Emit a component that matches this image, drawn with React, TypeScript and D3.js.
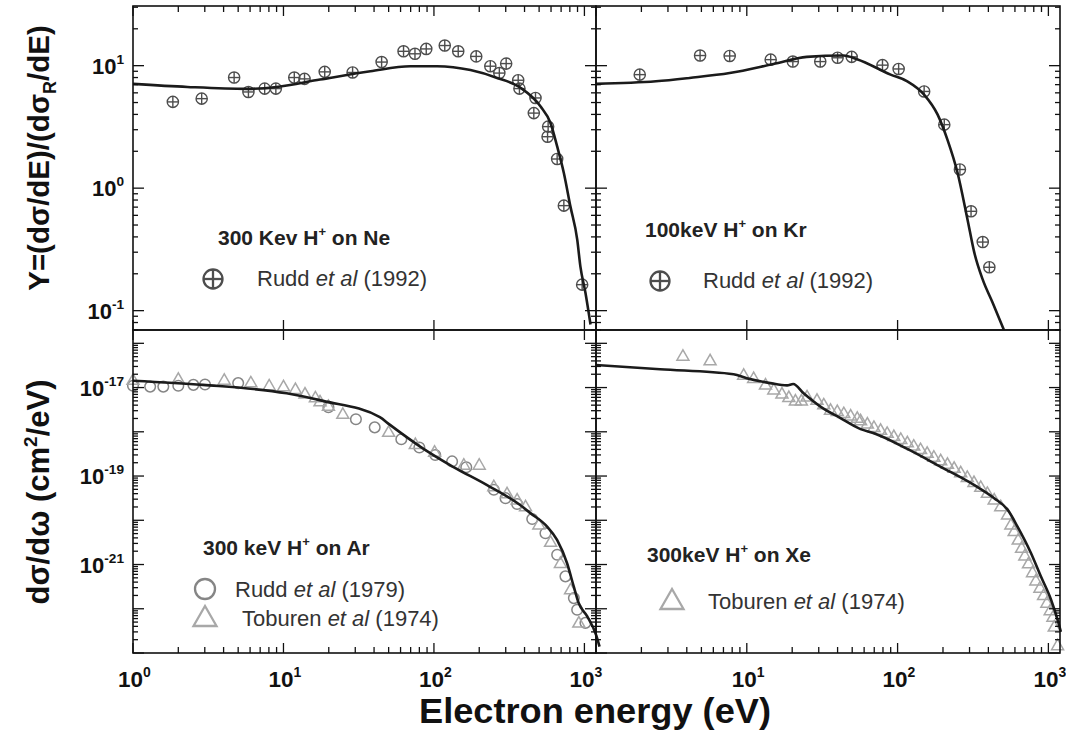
import React from "react";
import * as d3 from "d3";

// ---------- data ----------
// Top-left: 300 keV H+ on Ne, ratio Y
const neCurve: [number, number][] = [
  [1, 7.1], [2.3, 6.7], [5.7, 6.46], [9, 6.7], [17.5, 7.7], [37.8, 9.0], [69.7, 9.9],
  [105, 9.9], [175, 9.2], [263, 7.94], [376, 6.6], [510, 4.66], [595, 3.4], [659, 2.19],
  [730, 1.33], [807, 0.71], [896, 0.38], [940, 0.23], [1016, 0.14], [1098, 0.077],
];
const neRudd1992: [number, number][] = [
  [1.84, 5.06], [2.86, 5.38], [4.7, 8.0], [5.85, 6.1], [7.5, 6.5], [8.9, 6.5], [11.8, 8.0],
  [13.8, 7.8], [18.8, 8.9], [28.8, 8.8], [44.9, 10.7], [62.8, 13.1], [74.8, 12.5], [88.9, 13.7],
  [118, 14.6], [145, 13.1], [191, 11.9], [237, 9.9], [272, 8.7], [302, 10.4], [363, 7.6],
  [370, 6.5], [473, 5.45], [461, 4.1], [574, 3.18], [569, 2.63], [659, 1.73], [730, 0.72],
  [966, 0.163],
];
// Top-right: 100 keV H+ on Kr
const krCurve: [number, number][] = [
  [1, 7.1], [2.5, 7.45], [4.17, 7.94], [7.7, 8.7], [15, 10.3], [25, 11.8], [43.9, 12.1],
  [53.8, 11.3], [89.8, 8.45], [116, 7.45], [150, 5.8], [184, 4.0], [214, 2.49], [250, 1.33],
  [291, 0.553], [323, 0.296], [367, 0.179], [427, 0.116], [511, 0.068],
];
const krRudd1992: [number, number][] = [
  [1.95, 8.45], [4.9, 12.1], [7.7, 12.0], [14.4, 11.2], [20.2, 10.8], [30.7, 10.8], [40, 11.6],
  [49.6, 11.8], [79.4, 10.1], [101.6, 9.4], [150, 6.16], [204, 3.3], [259, 1.42], [307, 0.647],
  [367, 0.363], [406, 0.226],
];
// Bottom-left: 300 keV H+ on Ar, cm^2/eV
const arCurve: [number, number][] = [
  [1, 1.43e-17], [2.92, 1.15e-17], [10.5, 7.4e-18], [18.3, 5.0e-18], [43.7, 2.14e-18],
  [50.8, 1.45e-18], [80.5, 4.7e-19], [134, 1.62e-19], [224, 6.3e-20], [372, 2.24e-20],
  [438, 1.45e-20], [565, 7.2e-21], [658, 3.6e-21], [767, 1.07e-21], [849, 3.2e-22],
  [916, 1.35e-22], [1042, 6.8e-23], [1202, 2.45e-23], [1260, 1.4e-23],
];
const arRudd1979: [number, number][] = [
  [1.0, 1.1e-17], [1.3, 1.05e-17], [1.59, 1.05e-17], [2.0, 1.1e-17], [2.52, 1.15e-17],
  [3.01, 1.17e-17], [5.0, 1.26e-17], [19.9, 3.59e-18], [30.3, 1.92e-18], [40.4, 1.26e-18],
  [60.7, 6.8e-19], [80, 4.4e-19], [102, 3.0e-19], [132, 2.14e-19], [164, 1.58e-19],
  [250, 4.9e-20], [299, 3.16e-20], [357, 2.34e-20], [450, 1.07e-20], [551, 5.1e-21],
  [659, 1.66e-21], [748, 5.4e-22], [851, 1.74e-22], [895, 9.5e-23], [1016, 4.8e-23],
];
const arToburen1974: [number, number][] = [
  [1.0, 1.48e-17], [2.0, 1.55e-17], [4.04, 1.48e-17], [6.07, 1.29e-17], [8.04, 1.1e-17],
  [10, 1.05e-17], [12.0, 9.1e-18], [13.9, 7.2e-18], [16.3, 5.9e-18], [17.5, 4.8e-18],
  [19.9, 3.8e-18], [24.8, 2.5e-18], [50, 9.8e-19], [75.2, 5.2e-19], [101, 3.5e-19],
  [158, 1.78e-19], [200, 1.78e-19], [250, 5.8e-20], [306, 4.0e-20], [357, 2.9e-20],
  [406, 2.04e-20], [498, 7.9e-21], [596, 3.2e-21], [693, 1.07e-21], [809, 2.7e-22],
  [918, 4.8e-23],
];
// Bottom-right: 300 keV H+ on Xe
const xeCurve: [number, number][] = [
  [1, 3.24e-17], [2.66, 2.59e-17], [8.17, 2.0e-17], [10.0, 1.62e-17], [14.3, 1.26e-17],
  [18.5, 1.12e-17], [20.3, 1.2e-17], [23.8, 7.4e-18], [30.8, 3.7e-18], [41.8, 2.04e-18],
  [56.8, 1.15e-18], [69.7, 9.3e-19], [116, 4.1e-19], [193, 1.62e-19], [321, 6.3e-20],
  [437, 3.16e-20], [536, 1.74e-20], [624, 7.2e-21], [766, 1.82e-21], [891, 5.4e-22],
  [1040, 1.62e-22], [1151, 5.6e-23], [1211, 3.0e-23],
];
const xeToburen1974: [number, number][] = [
  [3.77, 5.16e-17], [5.71, 4.07e-17], [9.53, 1.92e-17], [11.1, 1.62e-17], [13.3, 1.15e-17],
  [15.1, 8.9e-18], [17.1, 7.2e-18], [19.0, 6.0e-18], [21.0, 5.0e-18], [23.0, 5.0e-18],
  [25.1, 6.2e-18], [29.2, 5.2e-18], [32.4, 4.1e-18], [35.9, 3.1e-18], [39.8, 2.9e-18],
  [44.0, 2.6e-18], [48.8, 2.3e-18], [54.0, 2.04e-18], [56.8, 1.79e-18], [63.0, 1.51e-18],
  [69.7, 1.27e-18], [77.1, 1.09e-18], [85.3, 9.3e-19], [94.4, 7.9e-19], [105, 6.8e-19],
  [116, 5.7e-19], [128, 4.8e-19], [142, 4.0e-19], [157, 3.3e-19], [174, 2.7e-19],
  [193, 2.24e-19], [214, 1.86e-19], [237, 1.51e-19], [262, 1.2e-19], [290, 9.4e-20],
  [321, 7.2e-20], [356, 5.6e-20], [394, 4.1e-20], [437, 2.9e-20], [483, 2.04e-20],
  [536, 1.33e-20], [564, 7.9e-21], [593, 5.6e-21], [631, 3.6e-21], [664, 2.34e-21],
  [698, 1.58e-21], [738, 1.05e-21], [785, 6.6e-22], [826, 4.3e-22], [879, 2.95e-22],
  [929, 2.0e-22], [977, 1.35e-22], [1028, 9.1e-23], [1072, 6.5e-23], [1094, 3.9e-23],
  [1151, 1.48e-23],
];

const xDomain: [number, number] = [1, 1194];
const yTopDomain: [number, number] = [0.0695, 30.7];
const yBotDomain: [number, number] = [1e-23, 2.0e-16];
const xLabelExpLeft = [0, 1, 2, 3];
const xLabelExpRight = [1, 2, 3];
const yTopLabelExp = [1, 0, -1];
const yBotLabelExp = [-17, -19, -21];

// ---------- layout ----------
const W = 1066;
const H = 736;
const LX: [number, number] = [133, 596];
const RX: [number, number] = [596, 1060];
const TY: [number, number] = [330, 6];
const BY: [number, number] = [653, 330];

const xLeft = d3.scaleLog().domain(xDomain).range(LX);
const xRight = d3.scaleLog().domain(xDomain).range(RX);
const yTop = d3.scaleLog().domain(yTopDomain).range(TY);
const yBot = d3.scaleLog().domain(yBotDomain).range(BY);

const FONT = "'Liberation Sans', Arial, Helvetica, sans-serif";
const CURVE = "#1b1b1b";
const C_PLUS = "#4d4d4d";
const C_CIRC = "#858585";
const C_TRI = "#a8a8a8";

function logTicks(domain: [number, number]) {
  const out: { v: number; major: boolean }[] = [];
  const lo = Math.floor(Math.log10(domain[0]));
  const hi = Math.ceil(Math.log10(domain[1]));
  for (let e = lo; e <= hi; e++) {
    for (let k = 1; k <= 9; k++) {
      const v = k * Math.pow(10, e);
      if (v >= domain[0] * 0.9999 && v <= domain[1] * 1.0001) out.push({ v, major: k === 1 });
    }
  }
  return out;
}

type Sc = d3.ScaleLogarithmic<number, number>;

function Frame({ x, y, top, bottom }: { x: Sc; y: Sc; top: "all" | "major"; bottom: "all" | "major" }) {
  const [x0, x1] = x.range();
  const [y1, y0] = y.range();
  const xt = logTicks(x.domain() as [number, number]);
  const yt = logTicks(y.domain() as [number, number]);
  const lines: JSX.Element[] = [];
  xt.forEach((t, i) => {
    const px = x(t.v);
    if (top === "all" || t.major) {
      const len = t.major ? 10 : 6;
      lines.push(<line key={"xt" + i} x1={px} x2={px} y1={y0} y2={y0 + len} />);
    }
    if (bottom === "all" || t.major) {
      const len = t.major ? 10 : 6;
      lines.push(<line key={"xb" + i} x1={px} x2={px} y1={y1} y2={y1 - len} />);
    }
  });
  yt.forEach((t, i) => {
    const py = y(t.v);
    const len = t.major ? 11 : 5;
    lines.push(<line key={"yl" + i} x1={x0} x2={x0 + len} y1={py} y2={py} />);
    lines.push(<line key={"yr" + i} x1={x1} x2={x1 - len} y1={py} y2={py} />);
  });
  return (
    <g stroke="#111" strokeWidth={1.3} fill="none">
      {lines}
      <rect x={x0} y={y0} width={x1 - x0} height={y1 - y0} strokeWidth={1.6} />
    </g>
  );
}

function CirclePlus({ cx, cy, r, sw }: { cx: number; cy: number; r: number; sw: number }) {
  return (
    <g stroke={C_PLUS} strokeWidth={sw} fill="none">
      <circle cx={cx} cy={cy} r={r} />
      <line x1={cx - r} x2={cx + r} y1={cy} y2={cy} />
      <line x1={cx} x2={cx} y1={cy - r} y2={cy + r} />
    </g>
  );
}

function Tri({ cx, cy, s, sw }: { cx: number; cy: number; s: number; sw: number }) {
  const h = s * 0.87;
  const p = `${cx},${cy - h * 0.6} ${cx - s / 2},${cy + h * 0.4} ${cx + s / 2},${cy + h * 0.4}`;
  return <polygon points={p} fill="none" stroke={C_TRI} strokeWidth={sw} />;
}

function linePath(data: [number, number][], x: Sc, y: Sc) {
  return (
    d3
      .line<[number, number]>()
      .x((d) => x(d[0]))
      .y((d) => y(d[1]))
      .curve(d3.curveMonotoneX)(data) || ""
  );
}

function Pow({ x, y, exp, size, anchor }: { x: number; y: number; exp: number; size: number; anchor: string }) {
  return (
    <text x={x} y={y} fontFamily={FONT} fontWeight="bold" fontSize={size} textAnchor={anchor} fill="#111">
      10
      <tspan dy={-size * 0.45} fontSize={size * 0.62}>
        {String(exp)}
      </tspan>
    </text>
  );
}

function Title({ x, y, pre, post }: { x: number; y: number; pre: string; post: string }) {
  return (
    <text x={x} y={y} fontFamily={FONT} fontWeight="bold" fontSize={21} fill="#222">
      {pre}
      <tspan dy={-9} fontSize={13}>+</tspan>
      <tspan dy={9}>{post}</tspan>
    </text>
  );
}

function LegendText({ x, y, name, year }: { x: number; y: number; name: string; year: string }) {
  return (
    <text x={x} y={y} fontFamily={FONT} fontSize={22} fill="#333">
      {name}
      <tspan fontStyle="italic">et al</tspan>
      {" (" + year + ")"}
    </text>
  );
}

export default function App() {
  return (
    <svg
      width={W}
      height={H}
      viewBox={`0 0 ${W} ${H}`}
      style={{ position: "absolute", left: 0, top: 0, background: "#fff" }}
    >
      <defs>
        <clipPath id="cTL"><rect x={LX[0]} y={TY[1]} width={LX[1] - LX[0]} height={TY[0] - TY[1]} /></clipPath>
        <clipPath id="cTR"><rect x={RX[0]} y={TY[1]} width={RX[1] - RX[0]} height={TY[0] - TY[1]} /></clipPath>
        <clipPath id="cBL"><rect x={LX[0] - 10} y={BY[1]} width={LX[1] - LX[0] + 16} height={BY[0] - BY[1]} /></clipPath>
        <clipPath id="cBR"><rect x={RX[0]} y={BY[1]} width={RX[1] - RX[0] + 2} height={BY[0] - BY[1]} /></clipPath>
      </defs>
      <rect x={0} y={0} width={W} height={H} fill="#fff" />

      {/* data markers */}
      <g>
        {neRudd1992.map((d, i) => (
          <CirclePlus key={"ne" + i} cx={xLeft(d[0])} cy={yTop(d[1])} r={5.6} sw={1.4} />
        ))}
        {krRudd1992.map((d, i) => (
          <CirclePlus key={"kr" + i} cx={xRight(d[0])} cy={yTop(d[1])} r={5.6} sw={1.4} />
        ))}
        {arRudd1979.map((d, i) => (
          <circle key={"arc" + i} cx={xLeft(d[0])} cy={yBot(d[1])} r={5.3} fill="none" stroke={C_CIRC} strokeWidth={1.5} />
        ))}
        {arToburen1974.map((d, i) => (
          <Tri key={"art" + i} cx={xLeft(d[0])} cy={yBot(d[1])} s={12} sw={1.5} />
        ))}
        {xeToburen1974.map((d, i) => (
          <Tri key={"xet" + i} cx={xRight(d[0])} cy={yBot(d[1])} s={12} sw={1.5} />
        ))}
      </g>

      {/* curves */}
      <g fill="none" stroke={CURVE} strokeWidth={2.6} strokeLinejoin="round">
        <path d={linePath(neCurve, xLeft, yTop)} clipPath="url(#cTL)" />
        <path d={linePath(krCurve, xRight, yTop)} clipPath="url(#cTR)" />
        <path d={linePath(arCurve, xLeft, yBot)} clipPath="url(#cBL)" />
        <path d={linePath(xeCurve, xRight, yBot)} clipPath="url(#cBR)" />
      </g>

      {/* frames */}
      <Frame x={xLeft} y={yTop} top="all" bottom="major" />
      <Frame x={xRight} y={yTop} top="all" bottom="major" />
      <Frame x={xLeft} y={yBot} top="major" bottom="all" />
      <Frame x={xRight} y={yBot} top="major" bottom="all" />

      {/* annotations */}
      <Title x={218} y={245} pre="300 Kev H" post=" on Ne" />
      <CirclePlus cx={213} cy={279} r={9.5} sw={2.3} />
      <LegendText x={257} y={286} name="Rudd " year="1992" />

      <Title x={645} y={237} pre="100keV H" post=" on Kr" />
      <CirclePlus cx={660} cy={281} r={9.5} sw={2.3} />
      <LegendText x={703} y={288} name="Rudd " year="1992" />

      <Title x={203} y={555} pre="300 keV H" post=" on Ar" />
      <circle cx={205} cy={589} r={10} fill="none" stroke={C_CIRC} strokeWidth={2.3} />
      <LegendText x={235} y={597} name="Rudd " year="1979" />
      <Tri cx={205} cy={618} s={23} sw={2.3} />
      <LegendText x={242} y={626} name="Toburen " year="1974" />

      <Title x={647} y={562} pre="300keV H" post=" on Xe" />
      <Tri cx={672} cy={601} s={23} sw={2.3} />
      <LegendText x={708} y={609} name="Toburen " year="1974" />

      {/* tick labels */}
      {yTopLabelExp.map((e) => (
        <Pow key={"yt" + e} x={124} y={yTop(Math.pow(10, e)) + 8} exp={e} size={22} anchor="end" />
      ))}
      {yBotLabelExp.map((e) => (
        <Pow key={"yb" + e} x={124} y={yBot(Math.pow(10, e)) + 8} exp={e} size={22} anchor="end" />
      ))}
      {xLabelExpLeft.map((e) => (
        <Pow key={"xl" + e} x={xLeft(Math.pow(10, e)) - 15} y={687} exp={e} size={22.5} anchor="start" />
      ))}
      {xLabelExpRight.map((e) => (
        <Pow key={"xr" + e} x={xRight(Math.pow(10, e)) - 15} y={687} exp={e} size={22.5} anchor="start" />
      ))}

      {/* axis titles */}
      <text
        x={595}
        y={723}
        fontFamily={FONT}
        fontWeight="bold"
        fontSize={35}
        textAnchor="middle"
        textLength={352}
        lengthAdjust="spacingAndGlyphs"
        fill="#111"
      >
        Electron energy (eV)
      </text>
      <text
        transform={`translate(49,158) rotate(-90)`}
        fontFamily={FONT}
        fontWeight="bold"
        fontSize={29.5}
        textAnchor="middle"
        fill="#111"
      >
        Y=(dσ/dE)/(dσ
        <tspan dy={7} fontSize={18}>R</tspan>
        <tspan dy={-7}>/dE)</tspan>
      </text>
      <text
        transform={`translate(49,492) rotate(-90)`}
        fontFamily={FONT}
        fontWeight="bold"
        fontSize={31}
        textAnchor="middle"
        fill="#111"
      >
        dσ/dω (cm
        <tspan dy={-12} fontSize={19}>2</tspan>
        <tspan dy={12}>/eV)</tspan>
      </text>
    </svg>
  );
}
